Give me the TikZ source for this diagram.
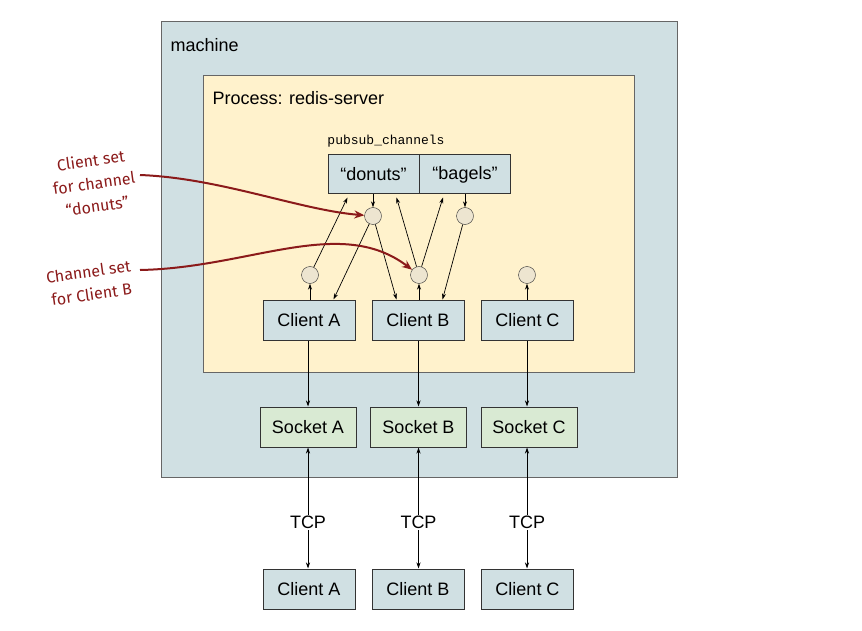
\documentclass[tikz,border=0pt]{standalone}
\usepackage{fontspec}
\setmainfont{Liberation Sans}
\setmonofont{Liberation Mono}
\newfontfamily\handfont{Fira Sans}
\usetikzlibrary{arrows.meta}
\definecolor{machinebg}{HTML}{D0E0E3}
\definecolor{processbg}{HTML}{FFF2CC}
\definecolor{socketbg}{HTML}{D9EAD3}
\definecolor{setbg}{HTML}{EDE5D0}
\definecolor{notered}{HTML}{8B1A1A}
\tikzstyle{every node}=[font=\fontsize{18}{21}\selectfont]
\tikzstyle{area}=[draw=black!60,line width=1pt]
\tikzstyle{block}=[draw=black!80,line width=1pt,fill=machinebg,minimum width=92pt,minimum height=40pt,inner sep=0pt]
\tikzstyle{socket}=[block,fill=socketbg,minimum width=96pt]
\tikzstyle{chan}=[block,minimum width=91pt,minimum height=39pt]
\tikzstyle{setnode}=[circle,draw=black!80,fill=setbg,minimum size=17pt,inner sep=0pt]
\tikzstyle{link}=[-{Stealth[length=6pt,width=4pt]},line width=0.7pt]
\tikzstyle{tcplink}=[{Stealth[length=6pt,width=4pt]}-{Stealth[length=6pt,width=4pt]},line width=0.7pt]
\tikzstyle{note}=[text=notered,font=\handfont\fontsize{16}{23}\selectfont,align=center,rotate=8,inner sep=1pt]
\tikzstyle{pointer}=[draw=notered,line width=2pt,-{Stealth[length=10pt,width=8pt]}]

\begin{document}
\begin{tikzpicture}[x=1pt,y=-1pt]
  \useasboundingbox (0,0) rectangle (862,631);
  \draw[area,fill=machinebg] (161,22) rectangle (677,477);
  \node[anchor=west] (machinelbl) at (167,45) {machine};
  \draw[area,fill=processbg] (203,76) rectangle (634,372);
  \node[anchor=west] (processlbl) at (209,98) {Process: redis-server};

  \node[font=\ttfamily\fontsize{13}{15}\selectfont] (channelslbl) at (386,141) {pubsub\_channels};
  \node[chan] (donuts) at (373.5,174.5) {“donuts”};
  \node[chan] (bagels) at (465,174.5) {“bagels”};

  \node[setnode] (donutset) at (373,216) {};
  \node[setnode] (bagelset) at (465,216) {};
  \node[setnode] (aset) at (310,275) {};
  \node[setnode] (bset) at (419,275) {};
  \node[setnode] (cset) at (527,275) {};

  \node[block] (clA) at (309,320) {Client A};
  \node[block] (clB) at (418,320) {Client B};
  \node[block] (clC) at (527.5,320) {Client C};

  \node[socket] (sockA) at (308,427) {Socket A};
  \node[socket] (sockB) at (418.5,427) {Socket B};
  \node[socket] (sockC) at (529,427) {Socket C};

  \node[block] (remA) at (309,589) {Client A};
  \node[block] (remB) at (418,589) {Client B};
  \node[block] (remC) at (527.5,589) {Client C};

  \draw[link] (clA.north -| aset) -- (aset);
  \draw[link] (aset) -- ([xshift=20pt,yshift=-3pt]donuts.south west);
  \draw[link] (donuts.south -| donutset) -- (donutset);
  \draw[link] (donutset) -- ([xshift=-22pt]clA.north east);
  \draw[link] (donutset) -- ([xshift=25pt]clB.north west);
  \draw[link] (clB.north -| bset) -- (bset);
  \draw[link] (bset) -- ([xshift=-23pt,yshift=-3pt]donuts.south east);
  \draw[link] (bset) -- ([xshift=24pt,yshift=-3pt]bagels.south west);
  \draw[link] (bagels.south -| bagelset) -- (bagelset);
  \draw[link] (bagelset) -- ([xshift=-22pt]clB.north east);
  \draw[link] (clC.north -| cset) -- (cset);

  \draw[link] (clA.south -| sockA) -- (sockA);
  \draw[link] (clB.south -| sockB) -- (sockB);
  \draw[link] (clC.south -| cset) -- (sockC.north -| cset);

  \draw[tcplink] (sockA) -- node[pos=0.62,fill=white,inner sep=1pt] {TCP} (sockA |- remA.north);
  \draw[tcplink] (sockB) -- node[pos=0.62,fill=white,inner sep=1pt] {TCP} (sockB |- remB.north);
  \draw[tcplink] (sockC.south -| cset) -- node[pos=0.62,fill=white,inner sep=1pt] {TCP} (remC.north -| cset);

  \node[note] (clientsetnote) at (94,183) {Client set\\for channel\\“donuts”};
  \node[note] (channelsetnote) at (90,283) {Channel set\\for Client B};
  \coordinate (clientsettail) at (140,175);
  \coordinate (channelsettail) at (140,270);
  \draw[pointer] (clientsettail) .. controls (220,178) and (300,210) .. (donutset);
  \draw[pointer] (channelsettail) .. controls (250,268) and (340,215) .. (bset);
\end{tikzpicture}
\end{document}
